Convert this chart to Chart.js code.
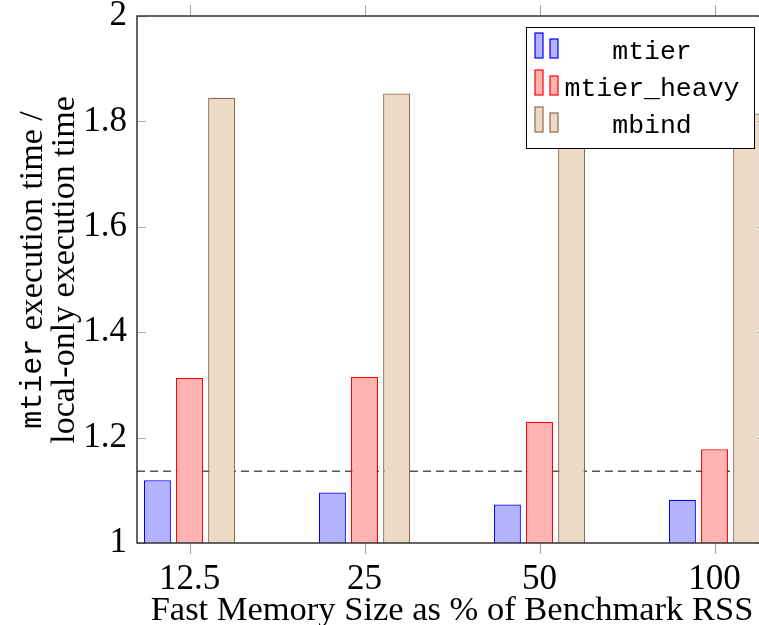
<!DOCTYPE html>
<html>
<head>
<meta charset="utf-8">
<script src="https://cdn.jsdelivr.net/npm/chart.js@4.4.0/dist/chart.umd.min.js"></script>
<style>
  html, body { margin: 0; padding: 0; background: #fff; overflow: hidden; }
  #wrap { width: 780px; height: 625px; }
</style>
</head>
<body>
<div id="wrap"><canvas id="memChart" width="780" height="625"></canvas></div>
<script>
// data
const sizeLabels = ['12.5', '25', '50', '100'];
const mtierVals = [1.119, 1.096, 1.073, 1.082];
const mtierHeavyVals = [1.313, 1.315, 1.230, 1.178];
const mbindVals = [1.845, 1.853, 1.83, 1.815];
const seriesNames = ['mtier', 'mtier_heavy', 'mbind'];
const localOnlyRef = 1.136;

const fills = ['#b3b3ff', '#ffb3b3', '#ecdac6'];
const edges = ['#0000ff', '#ff0000', '#8c6c4a'];

const serif = '"Liberation Serif", "Times New Roman", serif';
const mono = '"Liberation Mono", "DejaVu Sans Mono", monospace';

const toPoints = vals => vals.map((v, i) => ({ x: i, y: v }));

// dashed reference line, drawn behind the bars
const refLine = {
  id: 'refLine',
  beforeDatasetsDraw(chart) {
    const { ctx, chartArea, scales } = chart;
    const y = scales.y.getPixelForValue(localOnlyRef);
    ctx.save();
    ctx.strokeStyle = '#555';
    ctx.lineWidth = 1.5;
    ctx.setLineDash([8, 5]);
    ctx.beginPath();
    ctx.moveTo(chartArea.left, y);
    ctx.lineTo(chartArea.right, y);
    ctx.stroke();
    ctx.restore();
  }
};

// axis box, tick marks, legend and the mixed-font y title
const frame = {
  id: 'frame',
  afterDatasetsDraw(chart) {
    const { ctx, chartArea: a, scales } = chart;
    ctx.save();
    // tick marks
    ctx.strokeStyle = '#aaa';
    ctx.lineWidth = 1.2;
    ctx.beginPath();
    scales.y.ticks.forEach(t => {
      const y = Math.round(scales.y.getPixelForValue(t.value)) + 0.5;
      ctx.moveTo(a.left, y); ctx.lineTo(a.left + 9, y);
      ctx.moveTo(a.right, y); ctx.lineTo(a.right - 9, y);
    });
    scales.x.ticks.forEach(t => {
      const x = Math.round(scales.x.getPixelForValue(t.value)) + 0.5;
      ctx.moveTo(x, a.top); ctx.lineTo(x, a.top - 11);
      ctx.moveTo(x, a.bottom); ctx.lineTo(x, a.bottom + 11);
    });
    ctx.stroke();
    // box
    ctx.strokeStyle = '#333';
    ctx.lineWidth = 1.5;
    ctx.strokeRect(a.left, a.top, a.right - a.left, a.bottom - a.top);

    // legend
    const lx = 526, ly = 27, lw = 228, lh = 121;
    ctx.fillStyle = '#fff';
    ctx.fillRect(lx, ly, lw, lh);
    ctx.strokeStyle = '#000';
    ctx.lineWidth = 1;
    ctx.strokeRect(lx + 0.5, ly + 0.5, lw, lh);
    ctx.font = '26.5px ' + mono;
    ctx.textAlign = 'center';
    ctx.textBaseline = 'alphabetic';
    seriesNames.forEach((name, i) => {
      const base = 58 + i * 37;
      ctx.fillStyle = fills[i];
      ctx.strokeStyle = edges[i];
      ctx.lineWidth = 1.2;
      ctx.fillRect(535, base - 25, 8, 25);
      ctx.strokeRect(535, base - 25, 8, 25);
      ctx.fillRect(550, base - 19, 8, 19);
      ctx.strokeRect(550, base - 19, 8, 19);
      ctx.fillStyle = '#000';
      ctx.fillText(name, 652, base + 1);
    });

    // y axis title
    const cy = 270;
    ctx.save();
    ctx.translate(33, cy);
    ctx.rotate(-Math.PI / 2);
    ctx.textBaseline = 'middle';
    ctx.textAlign = 'left';
    const part1 = 'mtier', part2 = ' execution time /';
    ctx.font = '30px ' + mono;
    const w1 = ctx.measureText(part1).width;
    ctx.font = '34px ' + serif;
    const w2 = ctx.measureText(part2).width;
    const x0 = -(w1 + w2) / 2;
    ctx.fillStyle = '#000';
    ctx.font = '30px ' + mono;
    ctx.fillText(part1, x0, 0);
    ctx.font = '34px ' + serif;
    ctx.fillText(part2, x0 + w1, 0);
    ctx.restore();
    ctx.save();
    ctx.translate(65, cy);
    ctx.rotate(-Math.PI / 2);
    ctx.textBaseline = 'middle';
    ctx.textAlign = 'center';
    ctx.font = '34px ' + serif;
    ctx.fillStyle = '#000';
    ctx.fillText('local-only execution time', 0, 0);
    ctx.restore();
    ctx.restore();
  }
};

const ctx = document.getElementById('memChart').getContext('2d');
const memChart = new Chart(ctx, {
  type: 'bar',
  data: {
    datasets: [mtierVals, mtierHeavyVals, mbindVals].map((vals, i) => ({
      label: seriesNames[i],
      data: toPoints(vals),
      backgroundColor: fills[i],
      borderColor: edges[i],
      borderWidth: 1.3,
      borderSkipped: false,
      categoryPercentage: 0.55,
      barPercentage: 0.84
    }))
  },
  options: {
    responsive: false,
    animation: false,
    layout: { padding: { top: 0, right: 13, left: 0, bottom: 0 } },
    plugins: {
      legend: { display: false },
      tooltip: { enabled: false }
    },
    scales: {
      x: {
        type: 'linear',
        offset: false,
        min: -0.3,
        max: 3.3,
        grid: { display: false, drawTicks: false, offset: false },
        border: { display: false },
        ticks: {
          stepSize: 1,
          includeBounds: false,
          padding: 16,
          color: '#000',
          font: { family: serif, size: 35 },
          callback: v => sizeLabels[v] ?? ''
        },
        title: {
          display: true,
          text: 'Fast Memory Size as % of Benchmark RSS',
          color: '#000',
          font: { family: serif, size: 34.5, lineHeight: 0.8 },
          padding: { top: 0, bottom: 0 }
        },
        afterFit: s => { s.height = 82; }
      },
      y: {
        min: 1,
        max: 2,
        grid: { display: false, drawTicks: false },
        border: { display: false },
        ticks: {
          stepSize: 0.2,
          padding: 10,
          color: '#000',
          font: { family: serif, size: 35 },
          callback: v => String(Number(v.toFixed(1)))
        },
        afterFit: s => { s.width = 137; s.paddingTop = 16; }
      }
    }
  },
  plugins: [refLine, frame]
});
</script>
</body>
</html>
